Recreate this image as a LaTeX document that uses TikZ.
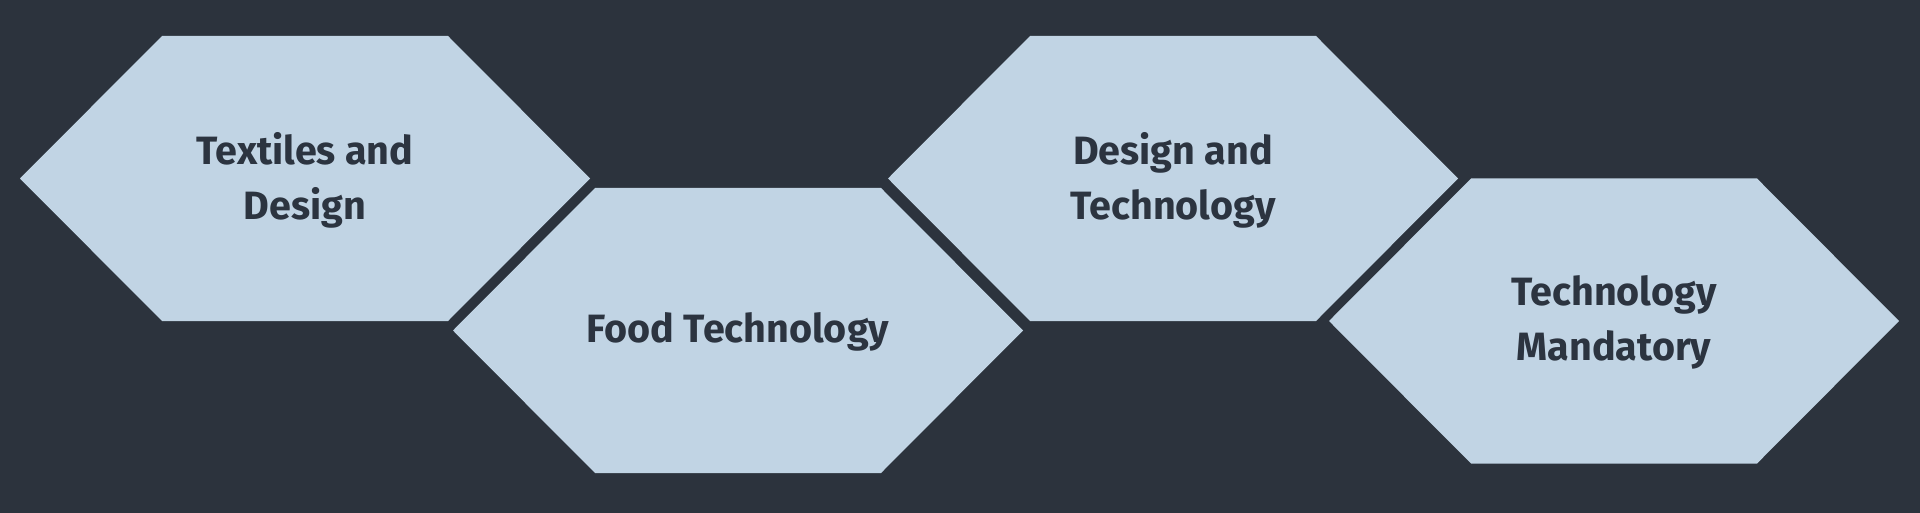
\documentclass[tikz,border=0pt]{standalone}
\usepackage{fontspec}
\setmainfont{Fira Sans}
\definecolor{bg}{HTML}{2C333D}
\definecolor{hexfill}{HTML}{C1D4E4}
\definecolor{txt}{HTML}{2C3440}
\tikzset{
  hexshape/.style={fill=hexfill, draw=none},
  hexlabel/.style={text=txt, font=\fontsize{39.5}{55}\selectfont\bfseries, align=center, inner sep=0pt}
}
\newcommand{\hexat}[4]{% name, left x, top y, text
  \fill[hexshape] (#2,#3+142.5) -- (#2+142,#3) -- (#2+428,#3) -- (#2+570,#3+142.5) -- (#2+428,#3+285) -- (#2+142,#3+285) -- cycle;
  \node[hexlabel] (#1) at (#2+285,#3+144) {#4};
}
\begin{document}
\begin{tikzpicture}[x=1pt,y=-1pt]
\fill[bg] (0,0) rectangle (1920,513);
\useasboundingbox (0,0) rectangle (1920,513);
\hexat{textiles}{20}{36}{Textiles and\\Design}
\hexat{food}{453}{188}{Food Technology}
\hexat{design}{888}{36}{Design and\\Technology}
\hexat{mandatory}{1329}{178.5}{Technology\\Mandatory}
\end{tikzpicture}
\end{document}
